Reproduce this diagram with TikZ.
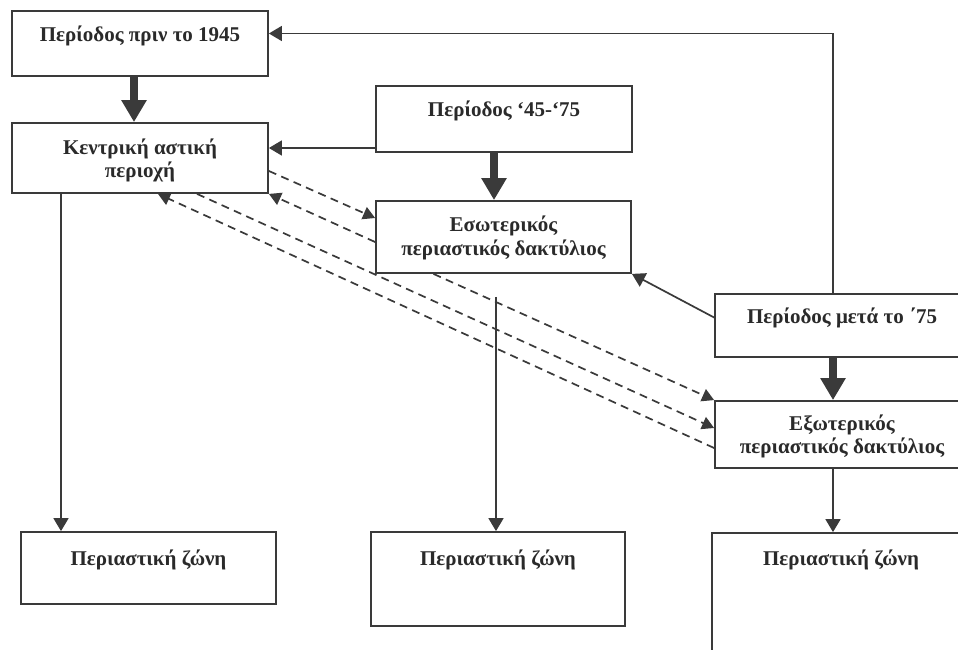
\documentclass[tikz,border=0pt]{standalone}
\usepackage{fontspec}
\setmainfont{Liberation Serif}
\usetikzlibrary{arrows.meta,calc}
\definecolor{ink}{HTML}{3A3A3A}
\definecolor{txt}{HTML}{2A2A2A}
\begin{document}
\begin{tikzpicture}[x=1pt,y=-1pt,
  box/.style={draw=ink,line width=1.8pt,inner sep=0pt,fill=none},
  lbl/.style={text=txt,inner sep=0pt,align=center,font=\bfseries\fontsize{21}{23.5}\selectfont},
  thinarrow/.style={draw=ink,line width=1.7pt,-{Triangle[width=15pt,length=13pt]}},
  thickarrow/.style={draw=ink,line width=8pt,-{Triangle[width=24pt,length=22pt]}},
  dasharrow/.style={draw=ink,line width=1.7pt,dash pattern=on 8pt off 5.5pt,-{Triangle[width=13pt,length=12pt]}}]
\clip (0,0) rectangle (958,650);
\fill[white] (0,0) rectangle (958,650);
% boxes
\node[box,minimum width=256pt,minimum height=65pt] (A) at (140,43.5) {};
\node[box,minimum width=256pt,minimum height=70pt] (B) at (140,158) {};
\node[box,minimum width=256pt,minimum height=66pt] (C) at (504,119) {};
\node[box,minimum width=255pt,minimum height=72pt] (D) at (503.5,237) {};
\node[box,minimum width=254pt,minimum height=63pt] (E) at (842,325.5) {};
\node[box,minimum width=254pt,minimum height=67pt] (F) at (842,434.5) {};
\node[box,minimum width=258pt,minimum height=147pt] (G) at (841,606.5) {};
\node[box,minimum width=255pt,minimum height=72pt] (H) at (148.5,568) {};
\node[box,minimum width=254pt,minimum height=94pt] (I) at (498,579) {};
% texts
\node[lbl,anchor=base] (tA) at (140,42) {Περίοδος πριν το 1945};
\node[lbl] (tB) at (140,161.3) {Κεντρική αστική\strut\\περιοχή\strut};
\node[lbl,anchor=base] (tC) at (504,117) {Περίοδος ‘45-‘75};
\node[lbl] (tD) at (503.5,238.8) {Εσωτερικός\strut\\περιαστικός δακτύλιος\strut};
\node[lbl,anchor=base] (tE) at (842,323) {Περίοδος μετά το ΄75};
\node[lbl] (tF) at (842,437.3) {Εξωτερικός\strut\\περιαστικός δακτύλιος\strut};
\node[lbl,anchor=base] (tG) at (841,565) {Περιαστική ζώνη};
\node[lbl,anchor=base] (tH) at (148.5,565) {Περιαστική ζώνη};
\node[lbl,anchor=base] (tI) at (498,565) {Περιαστική ζώνη};
% helper coordinates
\coordinate (As) at ([xshift=-6pt]A.south);
\coordinate (Cw) at ([yshift=-29pt]C.west);
\coordinate (Cs) at ([xshift=-10pt]C.south);
\coordinate (En) at ([xshift=-9pt]E.north);
\coordinate (Es) at ([xshift=-9pt]E.south);
\coordinate (Fs) at ([xshift=-9pt]F.south);
\coordinate (Bs) at ([xshift=-79pt]B.south);
\coordinate (Dt) at ([xshift=-7.5pt,yshift=-23pt]D.south);
% solid connectors
\draw[thickarrow] (As) -- (As |- B.north);
\draw[thickarrow] (Cs) -- (Cs |- D.north);
\draw[thickarrow] (Es) -- (Es |- F.north);
\draw[thinarrow] (Cw) -- (Cw -| B.east);
\draw[thinarrow] (En) |- ([yshift=10pt]A.east);
\draw[thinarrow] ([yshift=8pt]E.west) -- (D.south east);
\draw[thinarrow] (Fs) -- (Fs |- G.north);
\draw[thinarrow] (Bs) -- (Bs |- H.north);
\draw[thinarrow] (Dt) -- (Dt |- I.north);
% dashed connectors
\draw[dasharrow] ([yshift=-13pt]B.east) -- ([yshift=19pt]D.west);
\draw[dasharrow] ([yshift=-5pt]D.west) -- (B.south east);
\draw[dasharrow] ([xshift=-70pt]D.south) -- (F.north west);
\draw[dasharrow] ([xshift=57pt]B.south) -- ([yshift=6.5pt]F.west);
\draw[dasharrow] ([yshift=-13.5pt]F.west) -- ([xshift=18pt]B.south);
\end{tikzpicture}
\end{document}
